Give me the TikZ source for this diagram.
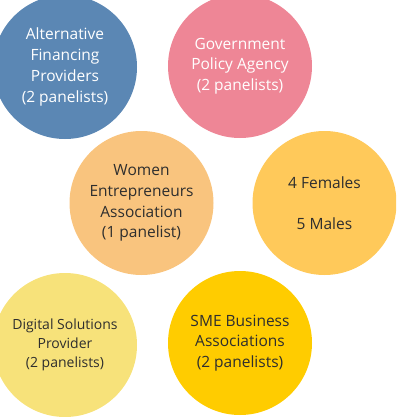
\documentclass[tikz,border=0pt]{standalone}
\usepackage{fontspec}
\setmainfont{Open Sans}
\usetikzlibrary{positioning}

\definecolor{finblue}{HTML}{5B87B4}
\definecolor{govpink}{HTML}{EE8696}
\definecolor{womenorange}{HTML}{F9C47E}
\definecolor{gendergold}{HTML}{FFC95A}
\definecolor{digitalyellow}{HTML}{F7E27A}
\definecolor{smeyellow}{HTML}{FFCC00}

\begin{document}
\begin{tikzpicture}[
    x=1pt, y=-1pt,
    every node/.style={font=\fontsize{15.5}{20.7}\selectfont},
    bubble/.style={circle, minimum size=144pt, inner sep=0pt, align=center},
    lighttext/.style={text=white},
    darktext/.style={text=black!82}
]
    \clip (0,0) rectangle (396,417);
    \node[bubble, fill=finblue, lighttext] (finance) at (65,67) {Alternative\\Financing\\Providers\\(2 panelists)};
    \node[bubble, fill=govpink, lighttext] (gov) at (240,66) {Government\\Policy Agency\\(2 panelists)};
    \node[bubble, fill=womenorange, darktext] (women) at (141.5,203) {Women\\Entrepreneurs\\Association\\(1 panelist)};
    \node[bubble, fill=gendergold, darktext] (gender) at (324.5,203) {4 Females\\[20.5pt]5 Males};
    \node[bubble, fill=digitalyellow, darktext, font=\fontsize{14}{19}\selectfont] (digital) at (65,345) {Digital Solutions\\Provider\\(2 panelists)};
    \node[bubble, fill=smeyellow, darktext] (sme) at (240,343) {SME Business\\Associations\\(2 panelists)};
\end{tikzpicture}
\end{document}
